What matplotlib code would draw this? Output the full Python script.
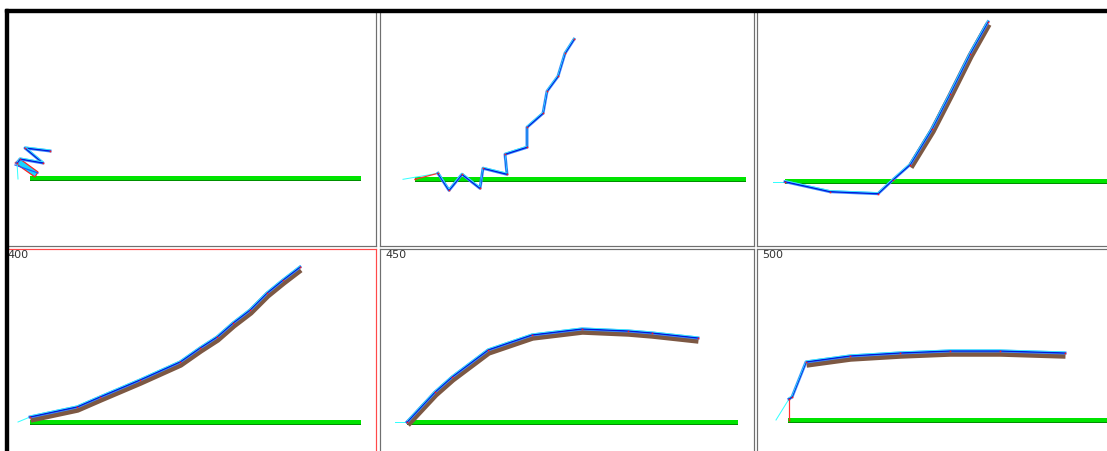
import numpy as np
import matplotlib
matplotlib.use("Agg")
import matplotlib.pyplot as plt
from matplotlib.patches import Rectangle, Polygon
from matplotlib.transforms import offset_copy

W, H = 1107, 451
PT = 0.72  # one pixel in points at dpi 100

# creature nodes per frame: x along the ground, height above the ground (pixels)
f1_x = [-13, -10, 13, -5, 20]
f1_h = [16, 20, 16, 31, 28]
f1_body_x = [-15, -10, 8, 5]
f1_body_h = [16, 20, 7, 2]

f2_x = [0, 23, 34, 47, 65, 68, 92, 90, 112, 112, 128, 132, 143, 150, 159]
f2_h = [0, 6, -11, 5, -9, 11, 5, 25, 32, 52, 66, 88, 103, 126, 140]

f3_x = [0, 45, 93, 108, 125, 147, 165, 185, 203]
f3_h = [0, -10, -12, 2, 17, 53, 88, 128, 160]

f4_x = [0, 47, 70, 110, 150, 170, 187, 203, 220, 237, 253, 270]
f4_h = [5, 15, 25, 42, 60, 74, 85, 99, 112, 129, 142, 155]

f5_x = [0, 28, 45, 81, 125, 175, 221, 245, 291]
f5_h = [0, 30, 45, 72, 87, 93, 91, 89, 84]

f6_x = [1, 1, 4, 18, 62, 112, 162, 212, 277]
f6_h = [0, 21, 23, 58, 64, 67, 69, 69, 67]

# where the thick body starts along each chain
body_from = [None, None, 4, 0, 0, 3]
# first node of the blue chain (earlier nodes form the red link)
chain_from = [0, 1, 0, 0, 0, 1]
frame_labels = ["", "", "", "400", "450", "500"]

# panel boxes (left, top, width, height) and ground anchor inside each panel
boxes = [(7, 11, 369, 235), (380, 11, 374, 235), (757, 11, 374, 235),
         (7, 249, 369, 235), (380, 249, 374, 235), (757, 249, 374, 235)]
anchors = [(23, 168), (35, 168.3), (28, 170.7), (23, 173), (27, 173), (31, 171)]
GROUND_LEN = 331
LEAD = -12

frames = [(f1_x, f1_h), (f2_x, f2_h), (f3_x, f3_h),
          (f4_x, f4_h), (f5_x, f5_h), (f6_x, f6_h)]

fig = plt.figure(figsize=(W / 100, H / 100), dpi=100)
fig.patch.set_facecolor("white")

for i, ((l, t, w, h), (gx, gy), (xs, hs)) in enumerate(zip(boxes, anchors, frames)):
    ax = fig.add_axes([l / W, 1 - (t + h) / H, w / W, h / H])
    ax.set_xlim(-gx, w - gx)
    ax.set_ylim(gy - h, gy)
    ax.set_xticks([])
    ax.set_yticks([])
    edge = "#ff4a4a" if i == 3 else "#6f6f6f"
    for s in ax.spines.values():
        s.set_color(edge)
        s.set_linewidth(1.2 * PT)

    # ground strip
    ax.plot([0, GROUND_LEN], [-1.5, -1.5], color="#008f00", lw=2 * PT,
            solid_capstyle="butt", zorder=1)
    ax.plot([0, GROUND_LEN], [0.5, 0.5], color="#00e400", lw=4 * PT,
            solid_capstyle="butt", zorder=2)

    xs = np.array(xs, float)
    hs = np.array(hs, float)
    k = chain_from[i]

    if i == 0:
        ax.add_patch(Polygon(np.column_stack([f1_body_x, f1_body_h]), closed=True,
                             facecolor="#19d4ff", edgecolor="#ff2020",
                             lw=1.2 * PT, zorder=3))
        ax.plot([f1_body_x[0], f1_body_x[2]], [f1_body_h[0] - 2, f1_body_h[2] - 1],
                color="#1a5cff", lw=1.2 * PT, zorder=4)

    b = body_from[i]
    if b is not None:
        down = offset_copy(ax.transData, fig=fig, x=0.5, y=-2.5, units="dots")
        ax.plot(xs[b:], hs[b:], color="#7d5843", lw=6.5 * PT, transform=down,
                solid_capstyle="butt", solid_joinstyle="round", zorder=3)

    # lead tether and red link
    ax.plot([LEAD, xs[k]], [0, hs[k]], color="#33ffff", lw=1.0 * PT, zorder=4)
    if k > 0:
        ax.plot(xs[:k + 1], hs[:k + 1], color="#ff3030", lw=1.2 * PT, zorder=4)

    ax.plot(xs[k:], hs[k:], color="#3a8cff", lw=3.0 * PT, zorder=5,
            solid_joinstyle="round")
    ax.plot(xs[k:], hs[k:], color="#0018d8", lw=1.3 * PT, zorder=6)
    up = offset_copy(ax.transData, fig=fig, x=0, y=1.2, units="dots")
    ax.plot(xs[k:], hs[k:], color="#36f0ff", lw=0.8 * PT, transform=up, zorder=6)
    ax.plot(xs, hs, ls="none", marker="s", ms=1.6 * PT, color="#ff1a1a",
            mec="none", zorder=7)

    if frame_labels[i]:
        tx = 0 if i == 3 else 5
        ax.text(-gx + tx, gy - 1, frame_labels[i], ha="left", va="top",
                fontsize=8, color="#333333", family="DejaVu Sans", zorder=8)

# window frame on the left and top
over = fig.add_axes([0, 0, 1, 1], facecolor="none")
over.set_xlim(0, W)
over.set_ylim(H, 0)
over.axis("off")
over.add_patch(Rectangle((5, 9), W - 5, 3, color="black"))
over.add_patch(Rectangle((5, 9), 3, H - 9, color="black"))

fig.savefig("out.png", dpi=100)
